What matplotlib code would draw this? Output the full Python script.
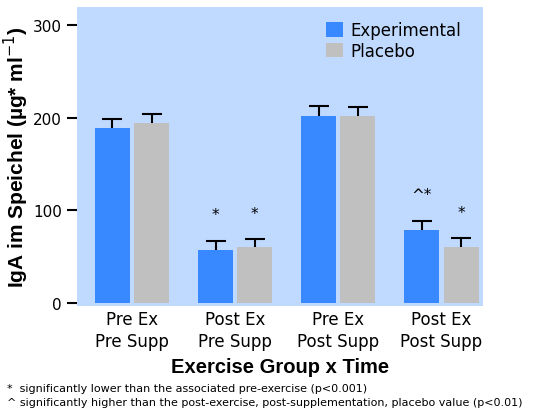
import matplotlib
matplotlib.use("Agg")
import matplotlib.pyplot as plt
import numpy as np

categories = ["Pre Ex\nPre Supp", "Post Ex\nPre Supp", "Pre Ex\nPost Supp", "Post Ex\nPost Supp"]
experimental = [189, 57, 202, 79]
experimental_err = [9, 10, 10, 10]
placebo = [194, 60, 202, 60]
placebo_err = [10, 9, 9, 10]
exp_marks = ["", "*", "", "^*"]
plc_marks = ["", "*", "", "*"]
yticks = [0, 100, 200, 300]

plt.rcParams['font.family'] = ['DejaVu Sans']

fig = plt.figure(figsize=(5.45, 4.14), dpi=100)
ax = fig.add_axes([77/545, 107/414, 406/545, 299/414])
ax.set_facecolor("#C0DAFF")
for s in ax.spines.values():
    s.set_visible(False)

x = np.arange(len(categories))
w = 0.34
off = 0.19
ax.bar(x - off, experimental, w, color="#3888FF", label="Experimental", zorder=2)
ax.bar(x + off, placebo, w, color="#C0C0C0", label="Placebo", zorder=2)
for xs, vals, errs in [(x - off, experimental, experimental_err), (x + off, placebo, placebo_err)]:
    eb = ax.errorbar(xs, vals, yerr=[np.zeros(4), errs], fmt="none",
                     ecolor="black", elinewidth=1.5, capsize=7.5, capthick=1.5, zorder=3)
    eb[1][0].set_visible(False)

for i in range(4):
    if exp_marks[i]:
        ax.text(x[i] - off, experimental[i] + experimental_err[i] + 28, exp_marks[i],
                ha="center", va="center", fontsize=11)
    if plc_marks[i]:
        ax.text(x[i] + off, placebo[i] + placebo_err[i] + 28, plc_marks[i],
                ha="center", va="center", fontsize=11)

ax.set_xlim(-0.534, 3.403)
ax.set_ylim(-3.2, 319.3)
ax.set_yticks(yticks)
ax.set_yticklabels([str(t) for t in yticks], fontsize=11)
ax.tick_params(axis="y", length=7, width=1.5, pad=4)
ax.set_xticks(x)
ax.set_xticklabels(categories, fontsize=12, linespacing=1.3)
ax.tick_params(axis="x", length=0, pad=3)
ax.set_xlabel("Exercise Group x Time", fontsize=14.5, fontweight="bold", labelpad=5,
              family="Liberation Sans")
ax.set_ylabel("IgA im Speichel (µg* ml$^{-1}$)", fontsize=15, fontweight="bold", labelpad=1,
              family="Liberation Sans")

ax.legend(loc="upper left", bbox_to_anchor=(0.578, 1.0), frameon=False, fontsize=12,
          handlelength=1.0, handleheight=1.0, handletextpad=0.5, labelspacing=0.15,
          borderaxespad=0.45)

fig.text(7/545, 1 - 389/414, "*  significantly lower than the associated pre-exercise (p<0.001)",
         fontsize=8, va="center", ha="left")
fig.text(7/545, 1 - 403/414, "^ significantly higher than the post-exercise, post-supplementation, placebo value (p<0.01)",
         fontsize=8, va="center", ha="left")

fig.savefig("out.png", dpi=100)
